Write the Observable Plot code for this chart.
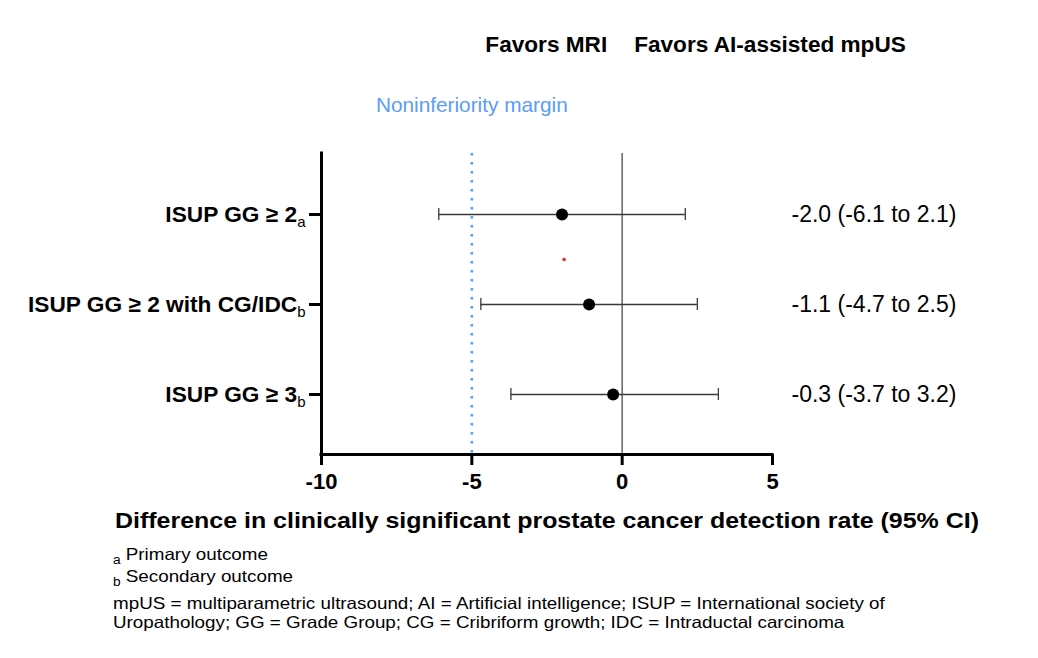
<!DOCTYPE html>
<html>
<head>
<meta charset="utf-8">
<script src="https://cdn.jsdelivr.net/npm/d3@7"></script>
<script src="https://cdn.jsdelivr.net/npm/@observablehq/plot@0.6"></script>
<style>
  body { margin: 0; background: #fff; font-family: "Liberation Sans", Arial, sans-serif; }
  #page { position: relative; width: 1038px; height: 658px; background: #fff; overflow: hidden; }
  .note { position: absolute; left: 113px; font-size: 16.5px; color: #000; white-space: nowrap; line-height: 1;
          transform: scaleX(1.14); transform-origin: 0 0; }
  .note .sub { font-size: 12px; position: relative; top: 4px; margin-right: 4.5px; }
</style>
</head>
<body>
<div id="page"><div id="chart"></div></div>
<script>
// Outcomes, their footnote marks and the risk differences with 95% CI (percentage points)
const outcomes = ["ISUP GG ≥ 2", "ISUP GG ≥ 2 with CG/IDC", "ISUP GG ≥ 3"];
const outcomeNotes = ["a", "b", "b"];
const estimates = [-2.0, -1.1, -0.3];
const ciLower = [-6.1, -4.7, -3.7];
const ciUpper = [2.1, 2.5, 3.2];

// Axis and reference values
const xTicks = [-10, -5, 0, 5];
const nonInferiorityMargin = -5;
const favorLabels = ["Favors MRI", "Favors AI-assisted mpUS"];
const marginLabel = "Noninferiority margin";
const xTitle = "Difference in clinically significant prostate cancer detection rate (95% CI)";

// Small red marker between the first two rows
const strayX = [-1.93];
const strayY = [0.5];

// Footnotes
const noteMarks = ["a", "b"];
const noteTexts = ["Primary outcome", "Secondary outcome"];
const abbreviationLines = [
  "mpUS = multiparametric ultrasound; AI = Artificial intelligence; ISUP = International society of",
  "Uropathology; GG = Grade Group; CG = Cribriform growth; IDC = Intraductal carcinoma"
];

const fmt = v => v.toFixed(1);
const rows = outcomes.map((name, i) => ({
  i, name,
  est: estimates[i], lo: ciLower[i], hi: ciUpper[i],
  label: `${fmt(estimates[i])} (${fmt(ciLower[i])} to ${fmt(ciUpper[i])})`
}));
const stray = strayX.map((x, k) => ({x, y: strayY[k]}));

const font = "'Liberation Sans', Arial, sans-serif";
const yBottom = 2.667;
const frameCenterX = (321 + (1038 - 266)) / 2;

const chart = Plot.plot({
  width: 1038,
  height: 540,
  marginLeft: 321,
  marginRight: 266,
  marginTop: 153,
  marginBottom: 86,
  style: {fontFamily: font, background: "#fff", color: "#000", overflow: "visible"},
  x: {domain: [-10, 5]},
  y: {domain: [-0.678, yBottom], reverse: true},
  marks: [
    // noninferiority margin
    Plot.ruleX([nonInferiorityMargin], {stroke: "#5b9cf6", strokeWidth: 2.6, strokeDasharray: "2.6,6.4"}),
    // line of no difference
    Plot.ruleX([0], {stroke: "#6e6e6e", strokeWidth: 1.6}),
    // confidence intervals with end caps
    Plot.ruleY(rows, {y: "i", x1: "lo", x2: "hi", stroke: "#3a3a3a", strokeWidth: 1.3}),
    Plot.ruleX(rows, {x: "lo", y1: "i", y2: "i", insetTop: -6, insetBottom: -6, stroke: "#3a3a3a", strokeWidth: 1.3}),
    Plot.ruleX(rows, {x: "hi", y1: "i", y2: "i", insetTop: -6, insetBottom: -6, stroke: "#3a3a3a", strokeWidth: 1.3}),
    // point estimates
    Plot.dot(rows, {x: "est", y: "i", r: 6, fill: "#000", stroke: "none"}),
    Plot.dot(stray, {x: "x", y: "y", r: 1.8, fill: "#e8262b", stroke: "none"}),
    // axis lines
    Plot.ruleX([-10], {stroke: "#000", strokeWidth: 3, strokeLinecap: "square"}),
    Plot.ruleY([yBottom], {x1: -10, x2: 5, stroke: "#000", strokeWidth: 3, strokeLinecap: "square"}),
    Plot.axisX({ticks: xTicks, tickFormat: d => String(d), tickSize: 11, tickPadding: 8, strokeWidth: 3,
      fontSize: 22, fontWeight: "bold", label: null, color: "#000"}),
    Plot.axisY({ticks: [0, 1, 2], tickFormat: i => outcomes[i], tickSize: 12, tickPadding: 4, strokeWidth: 3,
      fontSize: 22.7, fontWeight: "bold", label: null, color: "#000"}),
    // estimate labels on the right
    Plot.text(rows, {x: 5, y: "i", dx: 19, text: "label", textAnchor: "start", fontSize: 23, fill: "#000"}),
    // headers
    Plot.text([favorLabels[0]], {x: 0, frameAnchor: "top", lineAnchor: "middle", dy: -109, dx: -15, textAnchor: "end", fontSize: 22.6, fontWeight: "bold", fill: "#000"}),
    Plot.text([favorLabels[1]], {x: 0, frameAnchor: "top", lineAnchor: "middle", dy: -109, dx: 12, textAnchor: "start", fontSize: 22.6, fontWeight: "bold", fill: "#000"}),
    Plot.text([marginLabel], {x: nonInferiorityMargin, frameAnchor: "top", lineAnchor: "middle", dy: -48, fontSize: 20.8, fill: "#5b9cf6"}),
    // x-axis title
    Plot.text([xTitle], {frameAnchor: "bottom", lineAnchor: "middle", dy: 66, fontSize: 22, fontWeight: "bold", fill: "#000"})
  ]
});

// subscript footnote marks on the outcome labels
d3.select(chart).selectAll('g[aria-label="y-axis tick label"] text').each(function(d) {
  d3.select(this).append("tspan")
    .attr("font-size", 15)
    .attr("font-weight", "normal")
    .attr("dy", 5)
    .text(outcomeNotes[d]);
});
d3.select(chart).selectAll('g[aria-label="y-axis tick label"] text, g[aria-label="x-axis tick label"] text')
  .attr("font-weight", "bold");

// widen the axis title about the frame centre
d3.select(chart).selectAll("text").filter(function() { return this.textContent === xTitle; }).each(function() {
  const wrap = document.createElementNS("http://www.w3.org/2000/svg", "g");
  wrap.setAttribute("transform", `translate(${frameCenterX},0) scale(1.135,1) translate(${-frameCenterX},0)`);
  this.parentNode.insertBefore(wrap, this);
  wrap.appendChild(this);
});

document.getElementById("chart").append(chart);

// footnotes below the chart
const page = document.getElementById("page");
const noteTops = [546, 568];
noteMarks.forEach((m, k) => {
  const div = document.createElement("div");
  div.className = "note";
  div.style.top = noteTops[k] + "px";
  const sub = document.createElement("span");
  sub.className = "sub";
  sub.textContent = m;
  div.append(sub, noteTexts[k]);
  page.append(div);
});
const abbrTops = [595, 614];
abbreviationLines.forEach((t, k) => {
  const div = document.createElement("div");
  div.className = "note";
  div.style.top = abbrTops[k] + "px";
  div.textContent = t;
  page.append(div);
});
</script>
</body>
</html>
